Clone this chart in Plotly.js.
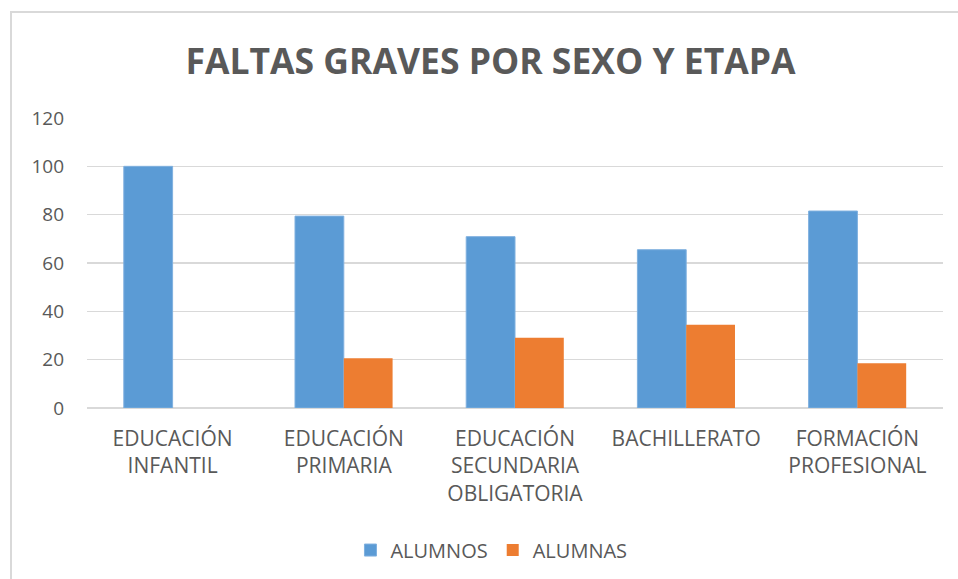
<!DOCTYPE html>
<html>
<head>
<meta charset="utf-8">
<script src="https://cdn.plot.ly/plotly-3.0.1.min.js"></script>
<style>
html,body{margin:0;padding:0;background:#fff;overflow:hidden;}
#frame{position:absolute;left:10px;top:11px;width:960px;height:580px;border-left:2px solid #d9d9d9;border-top:2px solid #d9d9d9;}
#chart{position:absolute;left:0;top:0;width:958px;height:579px;}
</style>
</head>
<body>
<div id="chart"></div>
<div id="frame"></div>
<script>
const categories = ["EDUCACIÓN<br>INFANTIL","EDUCACIÓN<br>PRIMARIA","EDUCACIÓN<br>SECUNDARIA<br>OBLIGATORIA","BACHILLERATO","FORMACIÓN<br>PROFESIONAL"];
const alumnos = [100, 79.4, 70.9, 65.5, 81.5];
const alumnas = [0, 20.6, 29.1, 34.5, 18.5];
const seriesNames = ["ALUMNOS", "ALUMNAS"];
const yTicks = [0, 20, 40, 60, 80, 100, 120];

const textColor = "#595959";
const fontFam = "'Open Sans', 'DejaVu Sans', sans-serif";

const traces = [
  {type:"bar", name:seriesNames[0], x:categories, y:alumnos, marker:{color:"#5b9bd5", line:{color:"#7fb0df", width:1}}},
  {type:"bar", name:seriesNames[1], x:categories, y:alumnas, marker:{color:"#ed7d31", line:{width:0}}}
];

const layout = {
  width:958, height:579,
  paper_bgcolor:"rgba(0,0,0,0)", plot_bgcolor:"#fff",
  margin:{l:87, r:15, t:118, b:171},
  barmode:"group", bargap:0.43, bargroupgap:0,
  title:{text:"<b>FALTAS GRAVES POR SEXO Y ETAPA</b>", font:{family:fontFam, size:35.5, color:textColor}, x:0.512, xref:"container", xanchor:"center", y:0.893, yref:"container", yanchor:"middle"},
  xaxis:{tickfont:{family:fontFam, size:21, color:textColor}, showline:false, ticks:"", showgrid:false, automargin:false, tickangle:0, ticklabelstandoff:16},
  yaxis:{range:[0,120], tickvals:yTicks, ticktext:yTicks.map(String), showgrid:true, gridcolor:"#d9d9d9", gridwidth:1.3, zeroline:true, zerolinecolor:"#d9d9d9", zerolinewidth:1.3, tickfont:{family:fontFam, size:19, color:textColor}, ticks:"", ticklabelstandoff:22, automargin:false, fixedrange:true},
  legend:{orientation:"h", x:0.513, xref:"container", xanchor:"center", y:0.05, yref:"container", yanchor:"middle", font:{family:fontFam, size:20, color:textColor}, itemwidth:30, traceorder:"normal"},
  showlegend:true
};

Plotly.newPlot("chart", traces, layout, {displayModeBar:false, staticPlot:true});
</script>
</body>
</html>
